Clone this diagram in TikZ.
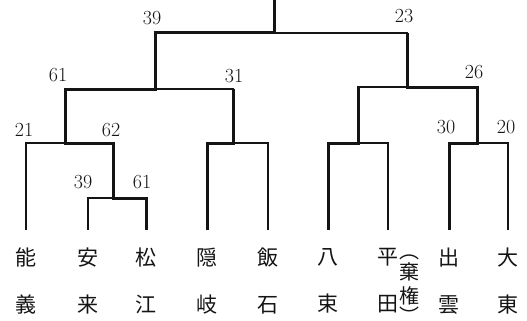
\documentclass[tikz,border=0pt]{standalone}
\usepackage{fontspec}
\usepackage{tikz}
\usetikzlibrary{positioning}
\newfontfamily\cjk{Noto Sans CJK JP}
\definecolor{InkBlack}{HTML}{141414}

\begin{document}
\begin{tikzpicture}[x=1pt, y=-1pt,
    win/.style={draw=InkBlack, line width=3pt},
    semi/.style={draw=InkBlack, line width=1.9pt},
    lose/.style={draw=InkBlack, line width=1.1pt},
    team/.style={anchor=north, inner xsep=0pt, inner ysep=18pt, align=center,
                 text=InkBlack, font=\cjk\fontsize{21}{47}\selectfont},
    score/.style={inner sep=0pt, text=InkBlack, font=\fontsize{20}{20}\selectfont}]
\useasboundingbox (0,0) rectangle (527,321);

% teams
\node[team] (noh)     at (26,230)  {能\\義};
\node[team] (yasugi)  at (88,230)  {安\\来};
\node[team] (matsue)  at (146,230) {松\\江};
\node[team] (oki)     at (207,230) {隠\\岐};
\node[team] (iishi)   at (268,230) {飯\\石};
\node[team] (yatsuka) at (328,230) {八\\束};
\node[team] (hirata)  at (388,230) {平\\田};
\node[team] (izumo)   at (449,230) {出\\雲};
\node[team] (daito)   at (508,230) {大\\東};
\node[anchor=north, inner sep=0pt, align=center, text=InkBlack,
      font=\cjk\fontsize{20}{24}\selectfont] (kiken) at (409,255) {︵\\[-3pt]棄\\権\\[-4pt]︶};

% match points
\coordinate (m1) at (113,198);
\coordinate (m2) at (65,143);
\coordinate (m3) at (233,143);
\coordinate (m4) at (358,143);
\coordinate (m5) at (477,143);
\coordinate (s1) at (155,89);
\coordinate (s2) at (407,87);
\coordinate (f)  at (274,33);
\coordinate (top) at (274,0);

% losing sides
\draw[lose] (yasugi.north) |- (m1);
\draw[lose] (noh.north) |- (m2);
\draw[lose] (iishi.north) |- (m3);
\draw[lose] (hirata.north) |- (m4);
\draw[lose] (daito.north) |- (m5);
\draw[semi] (m3) |- (s1);
\draw[semi] (m4) |- (s2);
\draw[semi] (s2) |- (f);

% winning sides
\draw[win] (matsue.north) |- (m1) |- (m2) |- (s1) |- (f) -- (top);
\draw[win] (oki.north) |- (m3) -- (m3 |- s1);
\draw[win] (yatsuka.north) |- (m4) -- (m4 |- s2);
\draw[win] (izumo.north) |- (m5) |- (s2) -- (s2 |- f);

% scores
\node[score] (sc1)  at (152,18)  {39};
\node[score] (sc2)  at (404,16)  {23};
\node[score] (sc3)  at (58,75)   {61};
\node[score] (sc4)  at (234,76)  {31};
\node[score] (sc5)  at (474,72)  {26};
\node[score] (sc6)  at (24,130)  {21};
\node[score] (sc7)  at (111,130) {62};
\node[score] (sc8)  at (446,127) {30};
\node[score] (sc9)  at (506,127) {20};
\node[score] (sc10) at (83,182)  {39};
\node[score] (sc11) at (142,182) {61};
\end{tikzpicture}
\end{document}
